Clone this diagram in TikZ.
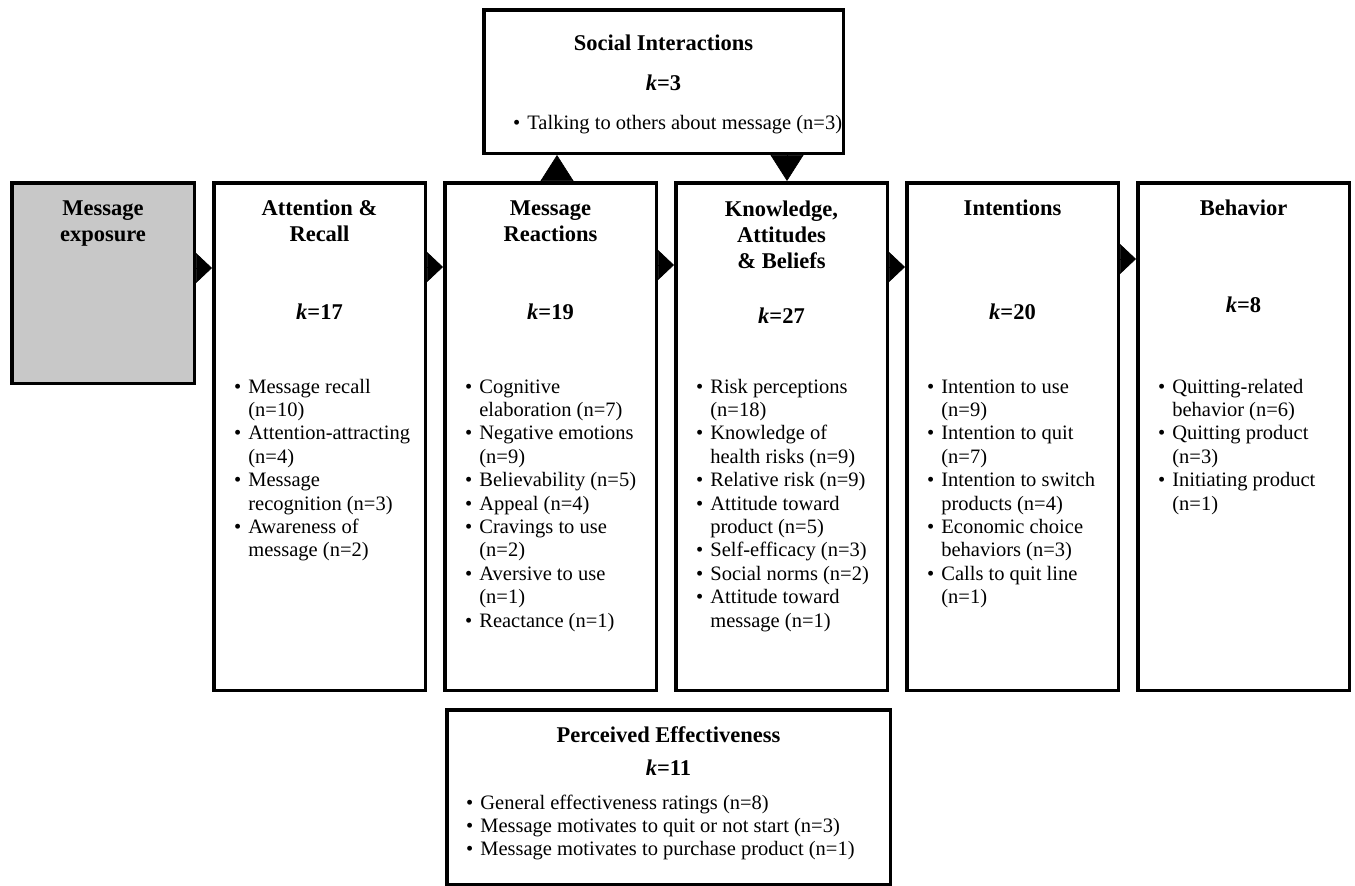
\documentclass[tikz,border=0pt]{standalone}
\usepackage{fontspec}
\setmainfont{Liberation Serif}
\usetikzlibrary{arrows.meta}
\definecolor{exposuregray}{RGB}{200,200,200}
\newcommand\mylist[1]{\begin{tabular}[t]{@{}l@{\hspace{7pt}}l@{}}#1\end{tabular}}
\newcommand\mytitle[1]{\begin{tabular}[t]{@{}c@{}}#1\end{tabular}}
\newcommand\kv[1]{\textit{k}=#1}
\tikzset{
  box/.style={draw=black, line width=3.5pt, fill=white, inner sep=0pt},
  ttl/.style={anchor=base, inner sep=0pt, font=\fontsize{22.5}{26}\selectfont\bfseries},
  lst/.style={anchor=base west, inner sep=0pt, font=\fontsize{20.5}{23.4}\selectfont},
  flowh/.style={line width=0.6pt, draw=black, -{Triangle[length=16pt,width=30pt]}},
  flowv/.style={line width=0.6pt, draw=black, -{Triangle[length=26pt,width=33pt]}},
}
\begin{document}
\begin{tikzpicture}[x=1pt,y=-1pt]
\useasboundingbox[fill=white] (0,0) rectangle (1355,886);

% boxes (outer edges)
\node[box, fill=exposuregray, minimum width=182.5pt, minimum height=200.5pt] (me)  at (103,283) {};
\node[box, minimum width=211.5pt, minimum height=507.5pt] (att) at (319.5,436.5) {};
\node[box, minimum width=211.5pt, minimum height=507.5pt] (mr)  at (550.5,436.5) {};
\node[box, minimum width=211.5pt, minimum height=507.5pt] (kab) at (781.5,436.5) {};
\node[box, minimum width=211.5pt, minimum height=507.5pt] (int) at (1012.5,436.5) {};
\node[box, minimum width=211.5pt, minimum height=507.5pt] (beh) at (1243.5,436.5) {};
\node[box, minimum width=359.5pt, minimum height=143.5pt] (soc) at (663.5,81.5) {};
\node[box, minimum width=443.5pt, minimum height=174.5pt] (pe)  at (668.5,797) {};

% titles
\node[ttl] (meT)  at (103,215)   {\mytitle{Message\\exposure}};
\node[ttl] (attT) at (319.5,215) {\mytitle{Attention \&\\Recall}};
\node[ttl] (mrT)  at (550.5,215) {\mytitle{Message\\Reactions}};
\node[ttl] (kabT) at (781.5,216) {\mytitle{Knowledge,\\Attitudes\\\& Beliefs}};
\node[ttl] (intT) at (1012.5,215) {Intentions};
\node[ttl] (behT) at (1243.5,215) {Behavior};
\node[ttl] (socT) at (663.5,50)  {Social Interactions};
\node[ttl] (peT)  at (668.5,742) {Perceived Effectiveness};

% k values
\node[ttl] (attK) at (319.5,319) {\kv{17}};
\node[ttl] (mrK)  at (550.5,319) {\kv{19}};
\node[ttl] (kabK) at (781.5,323) {\kv{27}};
\node[ttl] (intK) at (1012.5,319) {\kv{20}};
\node[ttl] (behK) at (1243.5,312) {\kv{8}};
\node[ttl] (socK) at (663.5,90)  {\kv{3}};
\node[ttl] (peK)  at (668.5,775) {\kv{11}};

% lists
\node[lst] (attL) at (234,393) {\mylist{%
\textbullet & Message recall\\ & (n=10)\\
\textbullet & Attention-attracting\\ & (n=4)\\
\textbullet & Message\\ & recognition (n=3)\\
\textbullet & Awareness of\\ & message (n=2)}};
\node[lst] (mrL) at (465,393) {\mylist{%
\textbullet & Cognitive\\ & elaboration (n=7)\\
\textbullet & Negative emotions\\ & (n=9)\\
\textbullet & Believability (n=5)\\
\textbullet & Appeal (n=4)\\
\textbullet & Cravings to use\\ & (n=2)\\
\textbullet & Aversive to use\\ & (n=1)\\
\textbullet & Reactance (n=1)}};
\node[lst] (kabL) at (696,393) {\mylist{%
\textbullet & Risk perceptions\\ & (n=18)\\
\textbullet & Knowledge of\\ & health risks (n=9)\\
\textbullet & Relative risk (n=9)\\
\textbullet & Attitude toward\\ & product (n=5)\\
\textbullet & Self-efficacy (n=3)\\
\textbullet & Social norms (n=2)\\
\textbullet & Attitude toward\\ & message (n=1)}};
\node[lst] (intL) at (927,393) {\mylist{%
\textbullet & Intention to use\\ & (n=9)\\
\textbullet & Intention to quit\\ & (n=7)\\
\textbullet & Intention to switch\\ & products (n=4)\\
\textbullet & Economic choice\\ & behaviors (n=3)\\
\textbullet & Calls to quit line\\ & (n=1)}};
\node[lst] (behL) at (1158,393) {\mylist{%
\textbullet & Quitting-related\\ & behavior (n=6)\\
\textbullet & Quitting product\\ & (n=3)\\
\textbullet & Initiating product\\ & (n=1)}};
\node[lst] (socL) at (513,129) {\mylist{%
\textbullet & Talking to others about message (n=3)}};
\node[lst] (peL) at (466,809) {\mylist{%
\textbullet & General effectiveness ratings (n=8)\\
\textbullet & Message motivates to quit or not start (n=3)\\
\textbullet & Message motivates to purchase product (n=1)}};

% connectors (filled triangles)
\draw[flowh] (me.east |- 0,268)  -- (att.west |- 0,268);
\draw[flowh] (att.east |- 0,267) -- (mr.west |- 0,267);
\draw[flowh] (mr.east |- 0,265)  -- (kab.west |- 0,265);
\draw[flowh] (kab.east |- 0,267) -- (int.west |- 0,267);
\draw[flowh] (int.east |- 0,259) -- (beh.west |- 0,259);
\draw[flowv] (mr.north -| 557,0) -- (soc.south -| 557,0);
\draw[flowv] (soc.south -| 787,0) -- (kab.north -| 787,0);
\end{tikzpicture}
\end{document}
